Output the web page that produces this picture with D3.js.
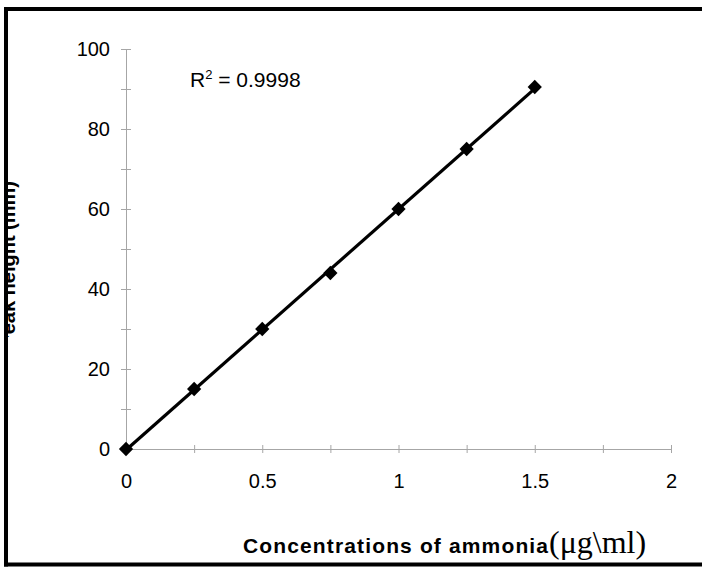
<!DOCTYPE html>
<html>
<head>
<meta charset="utf-8">
<script src="https://cdn.jsdelivr.net/npm/d3@7"></script>
<style>
  body { margin: 0; background: #fff; overflow: hidden; }
  svg { display: block; }
</style>
</head>
<body>
<svg width="702" height="568"></svg>
<script>
// calibration data: concentration (ug/ml) vs peak height (mm)
var concentrations = [0, 0.25, 0.5, 0.75, 1, 1.25, 1.5];
var peakHeights = [0, 15, 30, 44, 60, 75, 90.5];
var xTicks = [0, 0.25, 0.5, 0.75, 1, 1.25, 1.5, 1.75, 2];
var xLabels = [0, 0.5, 1, 1.5, 2];
var yTicks = d3.range(0, 101, 10);
var yLabels = [0, 20, 40, 60, 80, 100];
var r2Text = "0.9998";

var svg = d3.select("svg");

var x = d3.scaleLinear().domain([0, 2]).range([126, 671]);
var y = d3.scaleLinear().domain([0, 100]).range([449, 49]);

var axisColor = "#a6a6a6";
var sans = "Liberation Sans, Arial, sans-serif";

// y axis
var yAxis = svg.append("g")
    .attr("transform", "translate(126,0)")
    .call(d3.axisLeft(y)
        .tickValues(yTicks)
        .tickSizeOuter(0)
        .tickFormat(function(d) { return yLabels.indexOf(d) >= 0 ? d : ""; }));
yAxis.select(".domain").attr("stroke", axisColor);
yAxis.selectAll(".tick line").attr("x1", 5).attr("x2", -5).attr("stroke", axisColor);
yAxis.selectAll(".tick text")
    .attr("x", -16)
    .attr("fill", "#000")
    .style("font-family", sans)
    .style("font-size", "20px");

// x axis
var xAxis = svg.append("g")
    .attr("transform", "translate(0,449)")
    .call(d3.axisBottom(x)
        .tickValues(xTicks)
        .tickSizeOuter(0)
        .tickFormat(function(d) { return xLabels.indexOf(d) >= 0 ? d : ""; }));
xAxis.select(".domain").attr("stroke", axisColor);
xAxis.selectAll(".tick line").attr("y1", -4).attr("y2", 4).attr("stroke", axisColor);
xAxis.selectAll(".tick text")
    .attr("y", 39)
    .attr("dy", 0)
    .attr("fill", "#000")
    .style("font-family", sans)
    .style("font-size", "20px");

// linear trendline (least squares)
var mx = d3.mean(concentrations), my = d3.mean(peakHeights);
var sxy = d3.sum(concentrations, function(c, i) { return (c - mx) * (peakHeights[i] - my); });
var sxx = d3.sum(concentrations, function(c) { return (c - mx) * (c - mx); });
var slope = sxy / sxx, icpt = my - slope * mx;
var xmin = d3.min(concentrations), xmax = d3.max(concentrations);

svg.append("line")
    .attr("x1", x(xmin)).attr("y1", y(icpt + slope * xmin))
    .attr("x2", x(xmax)).attr("y2", y(icpt + slope * xmax))
    .attr("stroke", "#000")
    .attr("stroke-width", 3.2);

// data points
var pts = concentrations.map(function(c, i) { return [c, peakHeights[i]]; });
svg.append("g")
    .selectAll("path")
    .data(pts)
    .enter().append("path")
    .attr("d", d3.symbol().type(d3.symbolDiamond2).size(130))
    .attr("transform", function(d) { return "translate(" + x(d[0]) + "," + y(d[1]) + ")"; })
    .attr("fill", "#000");

// R squared
var r2 = svg.append("text")
    .attr("x", 190).attr("y", 87)
    .style("font-family", sans)
    .style("font-size", "21px");
r2.append("tspan").text("R");
r2.append("tspan").attr("dy", -8).style("font-size", "13px").text("2");
r2.append("tspan").attr("dy", 8).text(" = " + r2Text);

// x axis title
var xt = svg.append("text")
    .attr("x", 243).attr("y", 553);
xt.append("tspan")
    .style("font-family", sans)
    .style("font-weight", "bold")
    .style("font-size", "21px")
    .attr("textLength", 305)
    .attr("lengthAdjust", "spacing")
    .text("Concentrations of ammonia");
xt.append("tspan")
    .attr("x", 549)
    .style("font-family", "Liberation Serif, Times New Roman, serif")
    .style("font-size", "32px")
    .text("(\u03bcg\\ml)");

// y axis title, partly hidden behind the frame
svg.append("clipPath").attr("id", "ylab-clip")
    .append("rect").attr("x", 8).attr("y", 175).attr("width", 40).attr("height", 162);
svg.append("g")
    .attr("clip-path", "url(#ylab-clip)")
    .append("text")
    .attr("transform", "translate(15,181) rotate(-90)")
    .attr("text-anchor", "end")
    .style("font-family", sans)
    .style("font-weight", "bold")
    .style("font-size", "20px")
    .text("Peak height (mm)");

// outer frame (open on the right, as in the cropped original)
var frame = svg.append("g").attr("stroke", "#000").attr("stroke-width", 4);
frame.append("line").attr("x1", 4).attr("y1", 9).attr("x2", 702).attr("y2", 9);
frame.append("line").attr("x1", 6).attr("y1", 7).attr("x2", 6).attr("y2", 566.5);
frame.append("line").attr("x1", 4).attr("y1", 564.5).attr("x2", 702).attr("y2", 564.5);
</script>
</body>
</html>
